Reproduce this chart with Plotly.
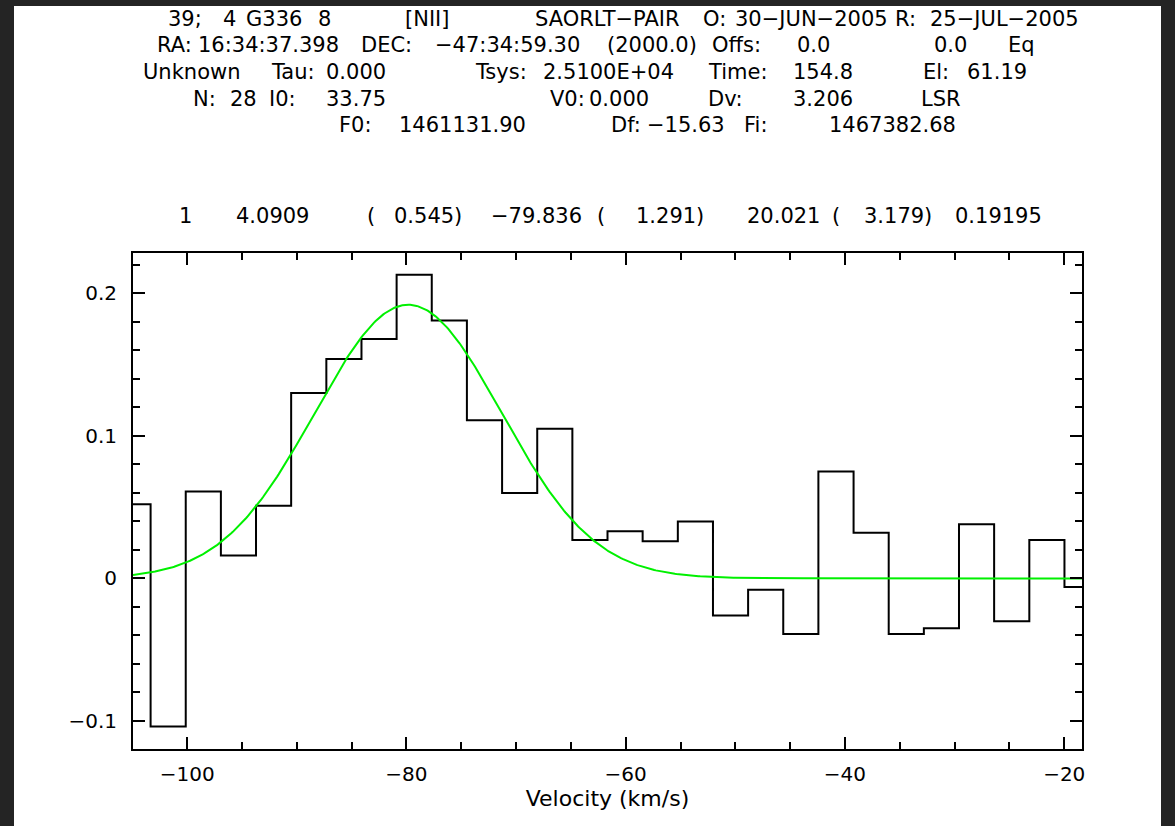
import numpy as np
import plotly.graph_objects as go

# ---- data ----
velocity = [-104.94, -101.73, -98.53, -95.32, -92.12, -88.91, -85.70, -82.50,
            -79.29, -76.09, -72.88, -69.67, -66.47, -63.26, -60.06, -56.85,
            -53.64, -50.44, -47.23, -44.03, -40.82, -37.61, -34.41, -31.20,
            -28.00, -24.79, -21.58, -18.38]
intensity = [0.052, -0.104, 0.061, 0.016, 0.051, 0.130, 0.154, 0.168,
             0.213, 0.181, 0.111, 0.060, 0.105, 0.027, 0.033, 0.026,
             0.040, -0.026, -0.008, -0.039, 0.075, 0.032, -0.039, -0.035,
             0.038, -0.030, 0.027, -0.006]

# gaussian fit parameters (as printed on the plot)
fit_area = 4.0909
fit_center = -79.836
fit_fwhm = 20.021
fit_peak = 0.19195

x_tick_vals = [-100, -80, -60, -40, -20]
x_tick_text = ["\u2212100", "\u221280", "\u221260", "\u221240", "\u221220"]
y_tick_vals = [-0.1, 0, 0.1, 0.2]
y_tick_text = ["\u22120.1", "0", "0.1", "0.2"]

header_lines = [
    ["39;", "4", "G336", "8", "[NII]", "SAORLT\u2212PAIR", "O:", "30\u2212JUN\u22122005", "R:", "25\u2212JUL\u22122005"],
    ["RA:", "16:34:37.398", "DEC:", "\u221247:34:59.30", "(2000.0)", "Offs:", "0.0", "0.0", "Eq"],
    ["Unknown", "Tau:", "0.000", "Tsys:", "2.5100E+04", "Time:", "154.8", "El:", "61.19"],
    ["N:", "28", "I0:", "33.75", "V0:", "0.000", "Dv:", "3.206", "LSR"],
    ["F0:", "1461131.90", "Df:", "\u221215.63", "Fi:", "1467382.68"],
]
fit_line = ["1", "4.0909", "(", "0.545)", "\u221279.836", "(", "1.291)", "20.021", "(", "3.179)", "0.19195"]

# ---- layout geometry (pixels, token centres) ----
W, H = 1175, 826
L, R, T, B = 133, 1082, 253, 749
header_x = [
    [185, 229, 274, 324, 427, 607, 714, 811, 905, 1004],
    [174, 268, 386, 507, 652, 736, 813, 950, 1021],
    [191, 293, 356, 501, 608, 737, 823, 936, 997],
    [204, 243, 282, 356, 567, 619, 725, 823, 941],
    [355, 462, 626, 686, 755, 892],
]
header_y = [19, 45, 72, 99, 125]
fit_x = [185, 272, 371, 428, 536, 601, 670, 783, 836, 898, 998]
fit_y = 216


def px(x):
    return (x - L) / (R - L)


def py(y):
    return (B - y) / (B - T)


fig = go.Figure()

fig.add_trace(go.Scatter(
    x=velocity, y=intensity, mode="lines",
    line=dict(shape="hvh", color="black", width=2),
    showlegend=False, hoverinfo="skip"))

vgrid = np.linspace(velocity[0], velocity[-1], 600)
gauss = fit_peak * np.exp(-4 * np.log(2) * (vgrid - fit_center) ** 2 / fit_fwhm ** 2)
fig.add_trace(go.Scatter(
    x=vgrid, y=gauss, mode="lines",
    line=dict(color="#00f000", width=2),
    showlegend=False, hoverinfo="skip"))

annotations = []
font = dict(family="DejaVu Sans", size=21, color="black")
for toks, xs, y in zip(header_lines, header_x, header_y):
    for t, x in zip(toks, xs):
        annotations.append(dict(text=t, x=px(x), y=py(y), xref="paper", yref="paper",
                                xanchor="center", yanchor="middle", showarrow=False, font=font))
for t, x in zip(fit_line, fit_x):
    annotations.append(dict(text=t, x=px(x), y=py(fit_y), xref="paper", yref="paper",
                            xanchor="center", yanchor="middle", showarrow=False, font=font))

axis_common = dict(
    showline=True, linecolor="black", linewidth=2, mirror="allticks",
    ticks="inside", ticklen=12, tickwidth=2, tickcolor="black",
    showgrid=False, zeroline=False,
    tickfont=dict(family="DejaVu Sans", size=20, color="black"),
)

fig.update_xaxes(
    range=[velocity[0], velocity[-1]],
    tickmode="array", tickvals=x_tick_vals, ticktext=x_tick_text,
    minor=dict(dtick=5, tick0=0, ticks="inside", ticklen=7, tickwidth=2, tickcolor="black"),
    title=dict(text="Velocity (km/s)", font=dict(family="DejaVu Sans", size=22, color="black"), standoff=0),
    ticklabelstandoff=6,
    **axis_common)
fig.update_yaxes(
    range=[-0.1197, 0.2283],
    tickmode="array", tickvals=y_tick_vals, ticktext=y_tick_text,
    minor=dict(dtick=0.02, tick0=0, ticks="inside", ticklen=7, tickwidth=2, tickcolor="black"),
    ticklabelstandoff=10,
    **axis_common)

fig.add_shape(type="rect", xref="paper", yref="paper",
              x0=px(14), x1=px(1161), y0=py(H + 10), y1=py(6),
              fillcolor="white", line=dict(width=0), layer="below")

fig.update_layout(
    width=W, height=H, autosize=False,
    margin=dict(l=L, r=W - R, t=T, b=H - B, pad=0),
    paper_bgcolor="#242424", plot_bgcolor="white",
    annotations=annotations,
    showlegend=False,
)

fig.write_html("out.html")
